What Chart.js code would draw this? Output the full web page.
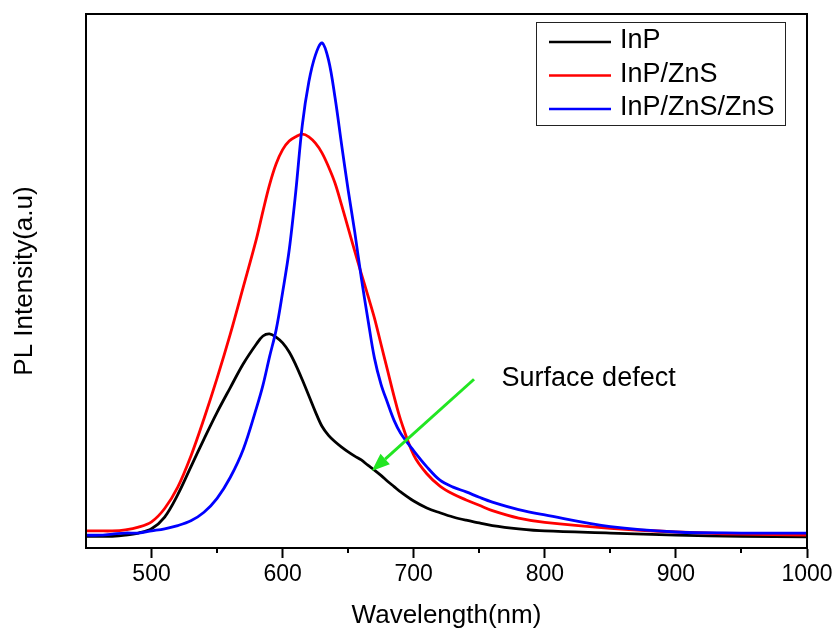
<!DOCTYPE html>
<html>
<head>
<meta charset="utf-8">
<title>PL spectra</title>
<script src="https://cdn.jsdelivr.net/npm/chart.js@4.4.7/dist/chart.umd.min.js"></script>
<style>
  html, body { margin: 0; background: #fff; }
  canvas { display: block; }
</style>
</head>
<body>
<canvas id="pl" width="834" height="632"></canvas>
<script>
const wavelength = [450, 460, 470, 480, 490, 500, 510, 520, 530, 540, 550, 560, 570, 580, 585, 590, 595, 600, 605, 610, 615, 620, 625, 630, 635, 640, 645, 650, 655, 660, 665, 670, 675, 680, 685, 690, 700, 710, 720, 730, 740, 750, 760, 780, 800, 850, 900, 950, 1000];
const inp = [2.2, 2.2, 2.2, 2.4, 2.8, 3.6, 5.8, 10.0, 15.2, 20.4, 25.4, 30.0, 34.5, 38.2, 39.7, 40.1, 39.5, 38.4, 36.7, 34.3, 31.5, 28.5, 25.5, 22.8, 21.1, 19.9, 18.9, 18.0, 17.2, 16.5, 15.5, 14.6, 13.6, 12.5, 11.5, 10.5, 8.8, 7.5, 6.6, 5.8, 5.2, 4.7, 4.2, 3.6, 3.2, 2.8, 2.4, 2.2, 2.1];
const inpZns = [3.2, 3.2, 3.2, 3.4, 3.9, 4.9, 7.4, 11.4, 17.2, 24.2, 31.8, 40.0, 48.9, 57.9, 63.1, 68.0, 71.9, 74.6, 76.2, 77.0, 77.5, 77.0, 75.8, 74.0, 71.4, 68.3, 64.2, 59.9, 55.6, 51.4, 47.3, 43.1, 38.2, 33.3, 28.4, 24.0, 17.4, 13.9, 11.6, 10.1, 9.0, 8.0, 7.0, 5.6, 4.8, 3.7, 3.0, 2.6, 2.4];
const inpZnsZns = [2.4, 2.4, 2.6, 2.8, 2.8, 3.2, 3.6, 4.2, 5.1, 6.7, 9.3, 13.2, 18.5, 26.2, 30.5, 35.8, 40.8, 47.9, 55.8, 66.7, 79.2, 87.3, 92.3, 94.6, 91.4, 84.3, 75.5, 67.0, 59.2, 50.6, 42.9, 35.6, 30.7, 27.2, 23.9, 21.5, 18.2, 15.2, 12.7, 11.4, 10.5, 9.5, 8.6, 7.2, 6.2, 4.0, 3.0, 2.8, 2.8];

const seriesNames = ['InP', 'InP/ZnS', 'InP/ZnS/ZnS'];
const seriesColors = ['#000000', '#ff0000', '#0000ff'];
const wavelengthTicks = [500, 600, 700, 800, 900, 1000];
const minorTicks = [550, 650, 750, 850, 950];

// arrow pointing at the InP shoulder, in data units (nm, intensity)
const defectText = 'Surface defect';
const defectTextAt = [767, 31.8];
const defectArrowFrom = [746, 31.6];
const defectArrowTo = [668, 14.4];

const FONT = "'Liberation Sans', Arial, sans-serif";

const overlay = {
  id: 'overlay',
  afterDraw(chart) {
    const { ctx, chartArea: a, scales: { x, y } } = chart;
    ctx.save();

    // closed frame round the plot
    ctx.strokeStyle = '#000';
    ctx.lineWidth = 2;
    ctx.strokeRect(a.left, a.top, a.right - a.left, a.bottom - a.top);

    // short minor ticks under the wavelength axis
    ctx.beginPath();
    minorTicks.forEach((v) => {
      const px = Math.round(x.getPixelForValue(v));
      ctx.moveTo(px, a.bottom);
      ctx.lineTo(px, a.bottom + 5);
    });
    ctx.stroke();

    // legend box, top right inside the plot
    const boxW = 249;
    const boxH = 103;
    const bx = a.right - 22 - boxW;
    const by = a.top + 8;
    ctx.lineWidth = 1;
    ctx.strokeStyle = '#222';
    ctx.strokeRect(bx + 0.5, by + 0.5, boxW, boxH);
    ctx.font = `27px ${FONT}`;
    ctx.textBaseline = 'middle';
    ctx.textAlign = 'left';
    chart.data.datasets.forEach((ds, i) => {
      const ly = by + 20 + i * 33.5;
      ctx.strokeStyle = ds.borderColor;
      ctx.lineWidth = 2.5;
      ctx.beginPath();
      ctx.moveTo(bx + 13, ly);
      ctx.lineTo(bx + 75, ly);
      ctx.stroke();
      ctx.fillStyle = '#000';
      ctx.fillText(ds.label, bx + 84, ly - 1);
    });

    // annotation arrow and label
    const x0 = x.getPixelForValue(defectArrowFrom[0]);
    const y0 = y.getPixelForValue(defectArrowFrom[1]);
    const x1 = x.getPixelForValue(defectArrowTo[0]);
    const y1 = y.getPixelForValue(defectArrowTo[1]);
    const ang = Math.atan2(y1 - y0, x1 - x0);
    const head = 18;
    const half = 7;
    const bxh = x1 - head * Math.cos(ang);
    const byh = y1 - head * Math.sin(ang);
    ctx.strokeStyle = '#22e622';
    ctx.fillStyle = '#22e622';
    ctx.lineWidth = 3;
    ctx.beginPath();
    ctx.moveTo(x0, y0);
    ctx.lineTo(bxh, byh);
    ctx.stroke();
    ctx.beginPath();
    ctx.moveTo(x1, y1);
    ctx.lineTo(bxh + half * Math.sin(ang), byh - half * Math.cos(ang));
    ctx.lineTo(bxh - half * Math.sin(ang), byh + half * Math.cos(ang));
    ctx.closePath();
    ctx.fill();

    ctx.fillStyle = '#000';
    ctx.font = `27px ${FONT}`;
    ctx.textBaseline = 'middle';
    ctx.fillText(defectText, x.getPixelForValue(defectTextAt[0]), y.getPixelForValue(defectTextAt[1]));
    ctx.restore();
  },
};

const series = [inp, inpZns, inpZnsZns];

new Chart(document.getElementById('pl'), {
  type: 'line',
  data: {
    datasets: series.map((values, i) => ({
      label: seriesNames[i],
      data: wavelength.map((nm, k) => ({ x: nm, y: values[k] })),
      borderColor: seriesColors[i],
      borderWidth: 2.8,
      pointRadius: 0,
      tension: 0.35,
      order: series.length - 1 - i,
    })),
  },
  options: {
    responsive: false,
    animation: false,
    layout: { padding: { top: 14, right: 27, bottom: 0, left: 0 } },
    plugins: {
      legend: { display: false },
      tooltip: { enabled: false },
    },
    scales: {
      x: {
        type: 'linear',
        min: 450,
        max: 1000,
        afterBuildTicks: (scale) => { scale.ticks = wavelengthTicks.map((value) => ({ value })); },
        afterFit: (scale) => {
          scale.height = 84;
          // let the layout padding alone decide where the plot ends
          scale.paddingLeft = 0;
          scale.paddingRight = 0;
        },
        grid: { drawOnChartArea: false, tickLength: 10, tickWidth: 2, tickColor: '#000' },
        border: { color: '#000', width: 2 },
        ticks: {
          color: '#000',
          font: { size: 23, family: FONT },
          padding: 3,
          maxRotation: 0,
          callback: (value) => String(value),
        },
        title: {
          display: true,
          text: 'Wavelength(nm)',
          color: '#000',
          font: { size: 26, family: FONT },
          padding: { top: 0, bottom: 1 },
        },
      },
      y: {
        min: 0,
        max: 100,
        afterFit: (scale) => { scale.width = 86; },
        grid: { display: false },
        border: { color: '#000', width: 2 },
        ticks: { display: false },
        title: {
          display: true,
          text: 'PL Intensity(a.u)',
          color: '#000',
          font: { size: 26, family: FONT },
          padding: { top: 9, bottom: 0 },
        },
      },
    },
  },
  plugins: [overlay],
});
</script>
</body>
</html>
